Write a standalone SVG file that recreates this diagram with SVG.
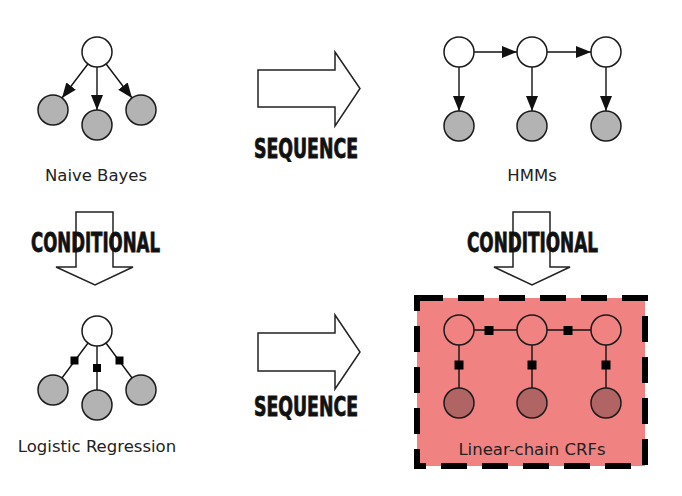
<svg xmlns="http://www.w3.org/2000/svg" width="682" height="496" viewBox="0 0 682 496">
<defs>
<marker id="ah" markerUnits="userSpaceOnUse" markerWidth="15" markerHeight="12" refX="15" refY="6" orient="auto">
<path d="M0,0 L15,6 L0,12 z" fill="#111"/>
</marker>
<style>
.n{fill:#fff;stroke:#1a1a1a;stroke-width:1.5}
.g{fill:#b3b3b3;stroke:#1a1a1a;stroke-width:1.5}
.o{fill:none;stroke:#1a1a1a;stroke-width:1.5}
.d{fill:#b06464;stroke:#1a1a1a;stroke-width:1.5}
.e{stroke:#111;stroke-width:1.4;fill:none}
.ea{stroke:#111;stroke-width:1.4;fill:none;marker-end:url(#ah)}
.f{fill:#000}
.lbl{font-family:"DejaVu Sans",Verdana,sans-serif;font-size:16.5px;fill:#222;text-anchor:middle}
.big{font-family:"DejaVu Sans Condensed","DejaVu Sans",sans-serif;font-weight:bold;font-size:27px;fill:#111;stroke:#111;stroke-width:0.8}
.blk{fill:#fff;stroke:#222;stroke-width:1.5;stroke-linejoin:miter}
</style>
</defs>
<rect width="682" height="496" fill="#fff"/>

<g id="crf-box">
<rect x="417" y="298" width="228" height="168" fill="#f08282" stroke="#000" stroke-width="6" stroke-dasharray="26,15"/>
</g>

<g id="block-arrows">
<polygon class="blk" points="258,70 335,70 335,52 360,88.5 335,126 335,107 258,107"/>
<polygon class="blk" points="258,333 335,333 335,315 360,352 335,389 335,371 258,371"/>
<polygon class="blk" points="76,212 113,212 113,267 133,267 95,285 56,267 76,267"/>
<polygon class="blk" points="513,212 550,212 550,267 570,267 532,285 494,267 513,267"/>
</g>

<g id="connectors">
<line class="ea" x1="87.9" y1="64" x2="62" y2="98"/>
<line class="ea" x1="97" y1="67" x2="97" y2="110"/>
<line class="ea" x1="106.1" y1="64" x2="132" y2="98"/>
<line class="ea" x1="474" y1="52" x2="517" y2="52"/>
<line class="ea" x1="547" y1="52" x2="591" y2="52"/>
<line class="ea" x1="459" y1="67" x2="459" y2="111"/>
<line class="ea" x1="532" y1="67" x2="532" y2="111"/>
<line class="ea" x1="606" y1="67" x2="606" y2="111"/>
<line class="e" x1="97" y1="331" x2="53" y2="390"/>
<line class="e" x1="97" y1="331" x2="97" y2="405"/>
<line class="e" x1="97" y1="331" x2="141" y2="390"/>
<line class="e" x1="474" y1="330" x2="517" y2="330"/>
<line class="e" x1="547" y1="330" x2="591" y2="330"/>
<line class="e" x1="459" y1="345" x2="459" y2="388"/>
<line class="e" x1="532" y1="345" x2="532" y2="388"/>
<line class="e" x1="606" y1="345" x2="606" y2="388"/>
<rect class="f" x="70.5" y="356.5" width="8" height="8"/>
<rect class="f" x="93" y="364" width="8" height="8"/>
<rect class="f" x="115.5" y="356.5" width="8" height="8"/>
<rect class="f" x="484.5" y="326" width="9" height="9"/>
<rect class="f" x="563.5" y="326" width="9" height="9"/>
<rect class="f" x="454.5" y="360.5" width="9" height="9"/>
<rect class="f" x="527.5" y="360.5" width="9" height="9"/>
<rect class="f" x="601.5" y="360.5" width="9" height="9"/>
</g>

<g id="naive-bayes">
<circle class="n" cx="97" cy="52" r="15"/>
<circle class="g" cx="53" cy="110" r="15"/>
<circle class="g" cx="97" cy="125" r="15"/>
<circle class="g" cx="141" cy="110" r="15"/>
<text class="lbl" x="96" y="181">Naive Bayes</text>
</g>

<g id="hmms">
<circle class="n" cx="459" cy="52" r="15"/>
<circle class="n" cx="532" cy="52" r="15"/>
<circle class="n" cx="606" cy="52" r="15"/>
<circle class="g" cx="459" cy="126" r="15"/>
<circle class="g" cx="532" cy="126" r="15"/>
<circle class="g" cx="606" cy="126" r="15"/>
<text class="lbl" x="532" y="181">HMMs</text>
</g>

<g id="logistic-regression">
<circle class="n" cx="97" cy="331" r="15"/>
<circle class="g" cx="53" cy="390" r="15"/>
<circle class="g" cx="97" cy="405" r="15"/>
<circle class="g" cx="141" cy="390" r="15"/>
<text class="lbl" x="97" y="452">Logistic Regression</text>
</g>

<g id="linear-chain-crfs">
<circle class="o" cx="459" cy="330" r="15"/>
<circle class="o" cx="532" cy="330" r="15"/>
<circle class="o" cx="606" cy="330" r="15"/>
<circle class="d" cx="459" cy="403" r="15"/>
<circle class="d" cx="532" cy="403" r="15"/>
<circle class="d" cx="606" cy="403" r="15"/>
<text class="lbl" x="532" y="455">Linear-chain CRFs</text>
</g>

<g id="labels">
<text class="big" x="254" y="158" textLength="104" lengthAdjust="spacingAndGlyphs">SEQUENCE</text>
<text class="big" x="254" y="416" textLength="104" lengthAdjust="spacingAndGlyphs">SEQUENCE</text>
<text class="big" x="31" y="252" textLength="129" lengthAdjust="spacingAndGlyphs">CONDITIONAL</text>
<text class="big" x="467" y="252" textLength="131" lengthAdjust="spacingAndGlyphs">CONDITIONAL</text>
</g>
</svg>
